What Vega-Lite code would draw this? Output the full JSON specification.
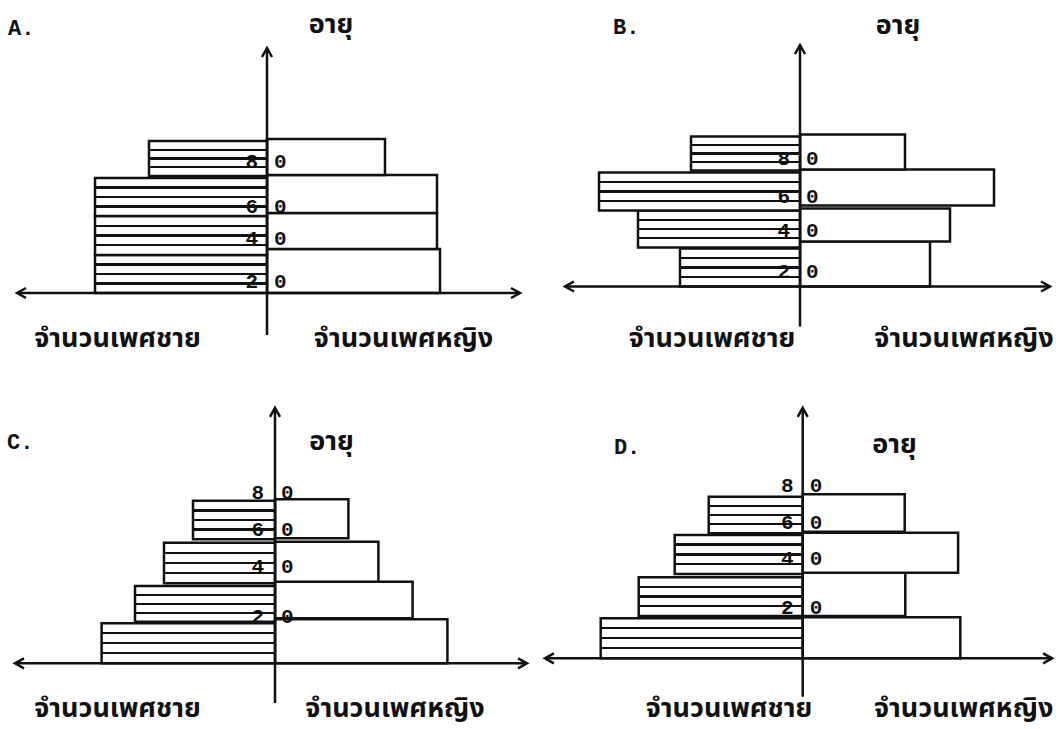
{
  "$schema": "https://vega.github.io/schema/vega-lite/v6.json",
  "padding": 0,
  "background": "white",
  "spacing": 0,
  "columns": 2,
  "config": {"view": {"stroke": null}, "axis": {"disable": true}, "concat": {"spacing": 0}},
  "datasets": {
    "bars": [
      {"panel": "A", "sex": "M", "group": 1, "value": -86, "lo": 0, "hi": 19},
      {"panel": "A", "sex": "M", "group": 2, "value": -86, "lo": 19, "hi": 38.5},
      {"panel": "A", "sex": "M", "group": 3, "value": -86, "lo": 38.5, "hi": 57.5},
      {"panel": "A", "sex": "M", "group": 4, "value": -59, "lo": 58.5, "hi": 76},
      {"panel": "A", "sex": "F", "group": 1, "value": 86.5, "lo": 0, "hi": 22},
      {"panel": "A", "sex": "F", "group": 2, "value": 85, "lo": 22, "hi": 40},
      {"panel": "A", "sex": "F", "group": 3, "value": 85, "lo": 40, "hi": 59},
      {"panel": "A", "sex": "F", "group": 4, "value": 59, "lo": 59, "hi": 77},
      {"panel": "B", "sex": "M", "group": 1, "value": -60, "lo": 0, "hi": 19},
      {"panel": "B", "sex": "M", "group": 2, "value": -81, "lo": 19.5, "hi": 38},
      {"panel": "B", "sex": "M", "group": 3, "value": -100.5, "lo": 38, "hi": 57},
      {"panel": "B", "sex": "M", "group": 4, "value": -54.5, "lo": 58, "hi": 75},
      {"panel": "B", "sex": "F", "group": 1, "value": 65, "lo": 0, "hi": 22.5},
      {"panel": "B", "sex": "F", "group": 2, "value": 75, "lo": 22.5, "hi": 39},
      {"panel": "B", "sex": "F", "group": 3, "value": 97, "lo": 40.5, "hi": 58.5},
      {"panel": "B", "sex": "F", "group": 4, "value": 52.5, "lo": 58.5, "hi": 76},
      {"panel": "C", "sex": "M", "group": 1, "value": -86.7, "lo": 0, "hi": 20},
      {"panel": "C", "sex": "M", "group": 2, "value": -70, "lo": 20.8, "hi": 38.6},
      {"panel": "C", "sex": "M", "group": 3, "value": -55.5, "lo": 40, "hi": 60.3},
      {"panel": "C", "sex": "M", "group": 4, "value": -41, "lo": 62, "hi": 81.3},
      {"panel": "C", "sex": "F", "group": 1, "value": 86.2, "lo": 0, "hi": 22},
      {"panel": "C", "sex": "F", "group": 2, "value": 68.8, "lo": 22.5, "hi": 40.8},
      {"panel": "C", "sex": "F", "group": 3, "value": 51.7, "lo": 40.8, "hi": 60.8},
      {"panel": "C", "sex": "F", "group": 4, "value": 36.7, "lo": 62.5, "hi": 82},
      {"panel": "D", "sex": "M", "group": 1, "value": -101, "lo": 0, "hi": 20},
      {"panel": "D", "sex": "M", "group": 2, "value": -82, "lo": 21.2, "hi": 40.5},
      {"panel": "D", "sex": "M", "group": 3, "value": -64, "lo": 42.2, "hi": 61.7},
      {"panel": "D", "sex": "M", "group": 4, "value": -47, "lo": 62.5, "hi": 80.8},
      {"panel": "D", "sex": "F", "group": 1, "value": 78.8, "lo": 0, "hi": 20.5},
      {"panel": "D", "sex": "F", "group": 2, "value": 51.3, "lo": 21.2, "hi": 42.8},
      {"panel": "D", "sex": "F", "group": 3, "value": 77.7, "lo": 42.8, "hi": 62.8},
      {"panel": "D", "sex": "F", "group": 4, "value": 51, "lo": 63.3, "hi": 82}
    ],
    "ticks": [
      {"panel": "A", "tens": "8", "ones": "0", "age": 65.6},
      {"panel": "A", "tens": "6", "ones": "0", "age": 43.2},
      {"panel": "A", "tens": "4", "ones": "0", "age": 27},
      {"panel": "A", "tens": "2", "ones": "0", "age": 5.7},
      {"panel": "B", "tens": "8", "ones": "0", "age": 63.6},
      {"panel": "B", "tens": "6", "ones": "0", "age": 44.9},
      {"panel": "B", "tens": "4", "ones": "0", "age": 27.9},
      {"panel": "B", "tens": "2", "ones": "0", "age": 7.4},
      {"panel": "C", "tens": "8", "ones": "0", "age": 85.3},
      {"panel": "C", "tens": "6", "ones": "0", "age": 66.7},
      {"panel": "C", "tens": "4", "ones": "0", "age": 48.3},
      {"panel": "C", "tens": "2", "ones": "0", "age": 23.3},
      {"panel": "D", "tens": "8", "ones": "0", "age": 86.2},
      {"panel": "D", "tens": "6", "ones": "0", "age": 67.5},
      {"panel": "D", "tens": "4", "ones": "0", "age": 49.5},
      {"panel": "D", "tens": "2", "ones": "0", "age": 25}
    ]
  },
  "concat": [
    {
      "width": 530, "height": 365,
      "layer": [
        {"data": {"name": "bars"}, "transform": [{"filter": "datum.panel == 'A' && datum.sex == 'F'"}],
         "mark": {"type": "rect", "fill": "white", "stroke": "#111", "strokeWidth": 2.5},
         "encoding": {
           "x": {"field": "value", "type": "quantitative", "scale": {"domain": [-133.5, 131.5], "nice": false, "zero": false}, "axis": null},
           "x2": {"datum": 0},
           "y": {"field": "lo", "type": "quantitative", "scale": {"domain": [-36, 146.5], "nice": false, "zero": false}, "axis": null},
           "y2": {"field": "hi"}}},
        {"data": {"name": "bars"}, "transform": [{"filter": "datum.panel == 'A' && datum.sex == 'M'"}],
         "mark": {"type": "rect", "stroke": "#111", "strokeWidth": 2.5,
           "fill": {"gradient": "linear", "x1": 0, "y1": 0, "x2": 0, "y2": 1, "stops": [
             {"offset": 0, "color": "white"}, {"offset": 0.22, "color": "white"}, {"offset": 0.22, "color": "#111"}, {"offset": 0.28, "color": "#111"}, {"offset": 0.28, "color": "white"},
             {"offset": 0.47, "color": "white"}, {"offset": 0.47, "color": "#111"}, {"offset": 0.53, "color": "#111"}, {"offset": 0.53, "color": "white"},
             {"offset": 0.72, "color": "white"}, {"offset": 0.72, "color": "#111"}, {"offset": 0.78, "color": "#111"}, {"offset": 0.78, "color": "white"}, {"offset": 1, "color": "white"}]}},
         "encoding": {
           "x": {"field": "value", "type": "quantitative", "scale": {"domain": [-133.5, 131.5], "nice": false, "zero": false}, "axis": null},
           "x2": {"datum": 0},
           "y": {"field": "lo", "type": "quantitative", "scale": {"domain": [-36, 146.5], "nice": false, "zero": false}, "axis": null},
           "y2": {"field": "hi"}}},
        {"data": {"values": [{}]}, "mark": {"type": "rule", "stroke": "#111", "strokeWidth": 2.5},
         "encoding": {"x": {"datum": 0}, "y": {"datum": -21}, "y2": {"datum": 122.5}}},
        {"data": {"values": [{}]}, "mark": {"type": "rule", "stroke": "#111", "strokeWidth": 2.5},
         "encoding": {"y": {"datum": 0}, "x": {"datum": -125}, "x2": {"datum": 126.5}}},
        {"data": {"values": [{}]}, "mark": {"type": "point", "shape": "M-1,1.8L0,0L1,1.8", "size": 100, "filled": false, "stroke": "#111", "strokeWidth": 2.5, "opacity": 1},
         "encoding": {"x": {"datum": 0}, "y": {"datum": 122.5}}},
        {"data": {"values": [{}]}, "mark": {"type": "point", "shape": "M1.8,-1L0,0L1.8,1", "size": 100, "filled": false, "stroke": "#111", "strokeWidth": 2.5, "opacity": 1},
         "encoding": {"x": {"datum": -125}, "y": {"datum": 0}}},
        {"data": {"values": [{}]}, "mark": {"type": "point", "shape": "M-1.8,-1L0,0L-1.8,1", "size": 100, "filled": false, "stroke": "#111", "strokeWidth": 2.5, "opacity": 1},
         "encoding": {"x": {"datum": 126.5}, "y": {"datum": 0}}},
        {"data": {"name": "ticks"}, "transform": [{"filter": "datum.panel == 'A'"}],
         "mark": {"type": "text", "font": "Liberation Mono", "fontSize": 21, "fontWeight": "bold", "align": "right", "baseline": "middle", "color": "#111"},
         "encoding": {"x": {"datum": -4.5}, "y": {"field": "age", "type": "quantitative"}, "text": {"field": "tens"}}},
        {"data": {"name": "ticks"}, "transform": [{"filter": "datum.panel == 'A'"}],
         "mark": {"type": "text", "font": "Liberation Mono", "fontSize": 21, "fontWeight": "bold", "align": "left", "baseline": "middle", "color": "#111"},
         "encoding": {"x": {"datum": 3.5}, "y": {"field": "age", "type": "quantitative"}, "text": {"field": "ones"}}},
        {"data": {"values": [{}]}, "mark": {"type": "text", "text": "A.", "font": "Liberation Mono", "fontSize": 22, "fontWeight": "bold", "align": "left", "baseline": "middle", "color": "#111"},
         "encoding": {"x": {"datum": -129.5}, "y": {"datum": 132.75}}},
        {"data": {"values": [{}]}, "mark": {"type": "text", "text": "อายุ", "font": "TlwgTypewriter, 'Tlwg Typo', 'Noto Sans Thai', Loma, Garuda, Waree, 'DejaVu Sans', sans-serif", "fontSize": 27, "fontWeight": "bold", "align": "center", "baseline": "alphabetic", "color": "#111"},
         "encoding": {"x": {"datum": 32}, "y": {"datum": 130}}},
        {"data": {"values": [{}]}, "mark": {"type": "text", "text": "จำนวนเพศชาย", "font": "TlwgTypewriter, 'Tlwg Typo', 'Noto Sans Thai', Loma, Garuda, Waree, 'DejaVu Sans', sans-serif", "fontSize": 27, "fontWeight": "bold", "align": "center", "baseline": "alphabetic", "color": "#111"},
         "encoding": {"x": {"datum": -74.75}, "y": {"datum": -27}}},
        {"data": {"values": [{}]}, "mark": {"type": "text", "text": "จำนวนเพศหญิง", "font": "TlwgTypewriter, 'Tlwg Typo', 'Noto Sans Thai', Loma, Garuda, Waree, 'DejaVu Sans', sans-serif", "fontSize": 27, "fontWeight": "bold", "align": "center", "baseline": "alphabetic", "color": "#111"},
         "encoding": {"x": {"datum": 68.25}, "y": {"datum": -27}}}
      ]
    },
    {
      "width": 530, "height": 365,
      "layer": [
        {"data": {"name": "bars"}, "transform": [{"filter": "datum.panel == 'B' && datum.sex == 'F'"}],
         "mark": {"type": "rect", "fill": "white", "stroke": "#111", "strokeWidth": 2.5},
         "encoding": {
           "x": {"field": "value", "type": "quantitative", "scale": {"domain": [-134, 131], "nice": false, "zero": false}, "axis": null},
           "x2": {"datum": 0},
           "y": {"field": "lo", "type": "quantitative", "scale": {"domain": [-39.25, 143.25], "nice": false, "zero": false}, "axis": null},
           "y2": {"field": "hi"}}},
        {"data": {"name": "bars"}, "transform": [{"filter": "datum.panel == 'B' && datum.sex == 'M'"}],
         "mark": {"type": "rect", "stroke": "#111", "strokeWidth": 2.5,
           "fill": {"gradient": "linear", "x1": 0, "y1": 0, "x2": 0, "y2": 1, "stops": [
             {"offset": 0, "color": "white"}, {"offset": 0.22, "color": "white"}, {"offset": 0.22, "color": "#111"}, {"offset": 0.28, "color": "#111"}, {"offset": 0.28, "color": "white"},
             {"offset": 0.47, "color": "white"}, {"offset": 0.47, "color": "#111"}, {"offset": 0.53, "color": "#111"}, {"offset": 0.53, "color": "white"},
             {"offset": 0.72, "color": "white"}, {"offset": 0.72, "color": "#111"}, {"offset": 0.78, "color": "#111"}, {"offset": 0.78, "color": "white"}, {"offset": 1, "color": "white"}]}},
         "encoding": {
           "x": {"field": "value", "type": "quantitative", "scale": {"domain": [-134, 131], "nice": false, "zero": false}, "axis": null},
           "x2": {"datum": 0},
           "y": {"field": "lo", "type": "quantitative", "scale": {"domain": [-39.25, 143.25], "nice": false, "zero": false}, "axis": null},
           "y2": {"field": "hi"}}},
        {"data": {"values": [{}]}, "mark": {"type": "rule", "stroke": "#111", "strokeWidth": 2.5},
         "encoding": {"x": {"datum": 0}, "y": {"datum": -20}, "y2": {"datum": 120.75}}},
        {"data": {"values": [{}]}, "mark": {"type": "rule", "stroke": "#111", "strokeWidth": 2.5},
         "encoding": {"y": {"datum": 0}, "x": {"datum": -117.5}, "x2": {"datum": 125}}},
        {"data": {"values": [{}]}, "mark": {"type": "point", "shape": "M-1,1.8L0,0L1,1.8", "size": 100, "filled": false, "stroke": "#111", "strokeWidth": 2.5, "opacity": 1},
         "encoding": {"x": {"datum": 0}, "y": {"datum": 120.75}}},
        {"data": {"values": [{}]}, "mark": {"type": "point", "shape": "M1.8,-1L0,0L1.8,1", "size": 100, "filled": false, "stroke": "#111", "strokeWidth": 2.5, "opacity": 1},
         "encoding": {"x": {"datum": -117.5}, "y": {"datum": 0}}},
        {"data": {"values": [{}]}, "mark": {"type": "point", "shape": "M-1.8,-1L0,0L-1.8,1", "size": 100, "filled": false, "stroke": "#111", "strokeWidth": 2.5, "opacity": 1},
         "encoding": {"x": {"datum": 125}, "y": {"datum": 0}}},
        {"data": {"name": "ticks"}, "transform": [{"filter": "datum.panel == 'B'"}],
         "mark": {"type": "text", "font": "Liberation Mono", "fontSize": 21, "fontWeight": "bold", "align": "right", "baseline": "middle", "color": "#111"},
         "encoding": {"x": {"datum": -5}, "y": {"field": "age", "type": "quantitative"}, "text": {"field": "tens"}}},
        {"data": {"name": "ticks"}, "transform": [{"filter": "datum.panel == 'B'"}],
         "mark": {"type": "text", "font": "Liberation Mono", "fontSize": 21, "fontWeight": "bold", "align": "left", "baseline": "middle", "color": "#111"},
         "encoding": {"x": {"datum": 3}, "y": {"field": "age", "type": "quantitative"}, "text": {"field": "ones"}}},
        {"data": {"values": [{}]}, "mark": {"type": "text", "text": "B.", "font": "Liberation Mono", "fontSize": 22, "fontWeight": "bold", "align": "left", "baseline": "middle", "color": "#111"},
         "encoding": {"x": {"datum": -93.5}, "y": {"datum": 129.75}}},
        {"data": {"values": [{}]}, "mark": {"type": "text", "text": "อายุ", "font": "TlwgTypewriter, 'Tlwg Typo', 'Noto Sans Thai', Loma, Garuda, Waree, 'DejaVu Sans', sans-serif", "fontSize": 27, "fontWeight": "bold", "align": "center", "baseline": "alphabetic", "color": "#111"},
         "encoding": {"x": {"datum": 49}, "y": {"datum": 126.4}}},
        {"data": {"values": [{}]}, "mark": {"type": "text", "text": "จำนวนเพศชาย", "font": "TlwgTypewriter, 'Tlwg Typo', 'Noto Sans Thai', Loma, Garuda, Waree, 'DejaVu Sans', sans-serif", "fontSize": 27, "fontWeight": "bold", "align": "center", "baseline": "alphabetic", "color": "#111"},
         "encoding": {"x": {"datum": -44}, "y": {"datum": -30.25}}},
        {"data": {"values": [{}]}, "mark": {"type": "text", "text": "จำนวนเพศหญิง", "font": "TlwgTypewriter, 'Tlwg Typo', 'Noto Sans Thai', Loma, Garuda, Waree, 'DejaVu Sans', sans-serif", "fontSize": 27, "fontWeight": "bold", "align": "center", "baseline": "alphabetic", "color": "#111"},
         "encoding": {"x": {"datum": 82}, "y": {"datum": -30.25}}}
      ]
    },
    {
      "width": 530, "height": 364,
      "layer": [
        {"data": {"name": "bars"}, "transform": [{"filter": "datum.panel == 'C' && datum.sex == 'F'"}],
         "mark": {"type": "rect", "fill": "white", "stroke": "#111", "strokeWidth": 2.5},
         "encoding": {
           "x": {"field": "value", "type": "quantitative", "scale": {"domain": [-137.5, 127.5], "nice": false, "zero": false}, "axis": null},
           "x2": {"datum": 0},
           "y": {"field": "lo", "type": "quantitative", "scale": {"domain": [-32.85, 149.15], "nice": false, "zero": false}, "axis": null},
           "y2": {"field": "hi"}}},
        {"data": {"name": "bars"}, "transform": [{"filter": "datum.panel == 'C' && datum.sex == 'M'"}],
         "mark": {"type": "rect", "stroke": "#111", "strokeWidth": 2.5,
           "fill": {"gradient": "linear", "x1": 0, "y1": 0, "x2": 0, "y2": 1, "stops": [
             {"offset": 0, "color": "white"}, {"offset": 0.22, "color": "white"}, {"offset": 0.22, "color": "#111"}, {"offset": 0.28, "color": "#111"}, {"offset": 0.28, "color": "white"},
             {"offset": 0.47, "color": "white"}, {"offset": 0.47, "color": "#111"}, {"offset": 0.53, "color": "#111"}, {"offset": 0.53, "color": "white"},
             {"offset": 0.72, "color": "white"}, {"offset": 0.72, "color": "#111"}, {"offset": 0.78, "color": "#111"}, {"offset": 0.78, "color": "white"}, {"offset": 1, "color": "white"}]}},
         "encoding": {
           "x": {"field": "value", "type": "quantitative", "scale": {"domain": [-137.5, 127.5], "nice": false, "zero": false}, "axis": null},
           "x2": {"datum": 0},
           "y": {"field": "lo", "type": "quantitative", "scale": {"domain": [-32.85, 149.15], "nice": false, "zero": false}, "axis": null},
           "y2": {"field": "hi"}}},
        {"data": {"values": [{}]}, "mark": {"type": "rule", "stroke": "#111", "strokeWidth": 2.5},
         "encoding": {"x": {"datum": 0}, "y": {"datum": -19.9}, "y2": {"datum": 127.7}}},
        {"data": {"values": [{}]}, "mark": {"type": "rule", "stroke": "#111", "strokeWidth": 2.5},
         "encoding": {"y": {"datum": 0}, "x": {"datum": -130}, "x2": {"datum": 126}}},
        {"data": {"values": [{}]}, "mark": {"type": "point", "shape": "M-1,1.8L0,0L1,1.8", "size": 100, "filled": false, "stroke": "#111", "strokeWidth": 2.5, "opacity": 1},
         "encoding": {"x": {"datum": 0}, "y": {"datum": 127.7}}},
        {"data": {"values": [{}]}, "mark": {"type": "point", "shape": "M1.8,-1L0,0L1.8,1", "size": 100, "filled": false, "stroke": "#111", "strokeWidth": 2.5, "opacity": 1},
         "encoding": {"x": {"datum": -130}, "y": {"datum": 0}}},
        {"data": {"values": [{}]}, "mark": {"type": "point", "shape": "M-1.8,-1L0,0L-1.8,1", "size": 100, "filled": false, "stroke": "#111", "strokeWidth": 2.5, "opacity": 1},
         "encoding": {"x": {"datum": 126}, "y": {"datum": 0}}},
        {"data": {"name": "ticks"}, "transform": [{"filter": "datum.panel == 'C'"}],
         "mark": {"type": "text", "font": "Liberation Mono", "fontSize": 21, "fontWeight": "bold", "align": "right", "baseline": "middle", "color": "#111"},
         "encoding": {"x": {"datum": -5.5}, "y": {"field": "age", "type": "quantitative"}, "text": {"field": "tens"}}},
        {"data": {"name": "ticks"}, "transform": [{"filter": "datum.panel == 'C'"}],
         "mark": {"type": "text", "font": "Liberation Mono", "fontSize": 21, "fontWeight": "bold", "align": "left", "baseline": "middle", "color": "#111"},
         "encoding": {"x": {"datum": 3}, "y": {"field": "age", "type": "quantitative"}, "text": {"field": "ones"}}},
        {"data": {"values": [{}]}, "mark": {"type": "text", "text": "C.", "font": "Liberation Mono", "fontSize": 22, "fontWeight": "bold", "align": "left", "baseline": "middle", "color": "#111"},
         "encoding": {"x": {"datum": -134}, "y": {"datum": 110.7}}},
        {"data": {"values": [{}]}, "mark": {"type": "text", "text": "อายุ", "font": "TlwgTypewriter, 'Tlwg Typo', 'Noto Sans Thai', Loma, Garuda, Waree, 'DejaVu Sans', sans-serif", "fontSize": 27, "fontWeight": "bold", "align": "center", "baseline": "alphabetic", "color": "#111"},
         "encoding": {"x": {"datum": 28.25}, "y": {"datum": 106.6}}},
        {"data": {"values": [{}]}, "mark": {"type": "text", "text": "จำนวนเพศชาย", "font": "TlwgTypewriter, 'Tlwg Typo', 'Noto Sans Thai', Loma, Garuda, Waree, 'DejaVu Sans', sans-serif", "fontSize": 27, "fontWeight": "bold", "align": "center", "baseline": "alphabetic", "color": "#111"},
         "encoding": {"x": {"datum": -78.75}, "y": {"datum": -26.85}}},
        {"data": {"values": [{}]}, "mark": {"type": "text", "text": "จำนวนเพศหญิง", "font": "TlwgTypewriter, 'Tlwg Typo', 'Noto Sans Thai', Loma, Garuda, Waree, 'DejaVu Sans', sans-serif", "fontSize": 27, "fontWeight": "bold", "align": "center", "baseline": "alphabetic", "color": "#111"},
         "encoding": {"x": {"datum": 60}, "y": {"datum": -26.85}}}
      ]
    },
    {
      "width": 530, "height": 364,
      "layer": [
        {"data": {"name": "bars"}, "transform": [{"filter": "datum.panel == 'D' && datum.sex == 'F'"}],
         "mark": {"type": "rect", "fill": "white", "stroke": "#111", "strokeWidth": 2.5},
         "encoding": {
           "x": {"field": "value", "type": "quantitative", "scale": {"domain": [-135.35, 129.65], "nice": false, "zero": false}, "axis": null},
           "x2": {"datum": 0},
           "y": {"field": "lo", "type": "quantitative", "scale": {"domain": [-35.35, 146.65], "nice": false, "zero": false}, "axis": null},
           "y2": {"field": "hi"}}},
        {"data": {"name": "bars"}, "transform": [{"filter": "datum.panel == 'D' && datum.sex == 'M'"}],
         "mark": {"type": "rect", "stroke": "#111", "strokeWidth": 2.5,
           "fill": {"gradient": "linear", "x1": 0, "y1": 0, "x2": 0, "y2": 1, "stops": [
             {"offset": 0, "color": "white"}, {"offset": 0.22, "color": "white"}, {"offset": 0.22, "color": "#111"}, {"offset": 0.28, "color": "#111"}, {"offset": 0.28, "color": "white"},
             {"offset": 0.47, "color": "white"}, {"offset": 0.47, "color": "#111"}, {"offset": 0.53, "color": "#111"}, {"offset": 0.53, "color": "white"},
             {"offset": 0.72, "color": "white"}, {"offset": 0.72, "color": "#111"}, {"offset": 0.78, "color": "#111"}, {"offset": 0.78, "color": "white"}, {"offset": 1, "color": "white"}]}},
         "encoding": {
           "x": {"field": "value", "type": "quantitative", "scale": {"domain": [-135.35, 129.65], "nice": false, "zero": false}, "axis": null},
           "x2": {"datum": 0},
           "y": {"field": "lo", "type": "quantitative", "scale": {"domain": [-35.35, 146.65], "nice": false, "zero": false}, "axis": null},
           "y2": {"field": "hi"}}},
        {"data": {"values": [{}]}, "mark": {"type": "rule", "stroke": "#111", "strokeWidth": 2.5},
         "encoding": {"x": {"datum": 0}, "y": {"datum": -19.2}, "y2": {"datum": 125.2}}},
        {"data": {"values": [{}]}, "mark": {"type": "rule", "stroke": "#111", "strokeWidth": 2.5},
         "encoding": {"y": {"datum": 0}, "x": {"datum": -128.9}, "x2": {"datum": 124.7}}},
        {"data": {"values": [{}]}, "mark": {"type": "point", "shape": "M-1,1.8L0,0L1,1.8", "size": 100, "filled": false, "stroke": "#111", "strokeWidth": 2.5, "opacity": 1},
         "encoding": {"x": {"datum": 0}, "y": {"datum": 125.2}}},
        {"data": {"values": [{}]}, "mark": {"type": "point", "shape": "M1.8,-1L0,0L1.8,1", "size": 100, "filled": false, "stroke": "#111", "strokeWidth": 2.5, "opacity": 1},
         "encoding": {"x": {"datum": -128.9}, "y": {"datum": 0}}},
        {"data": {"values": [{}]}, "mark": {"type": "point", "shape": "M-1.8,-1L0,0L-1.8,1", "size": 100, "filled": false, "stroke": "#111", "strokeWidth": 2.5, "opacity": 1},
         "encoding": {"x": {"datum": 124.7}, "y": {"datum": 0}}},
        {"data": {"name": "ticks"}, "transform": [{"filter": "datum.panel == 'D'"}],
         "mark": {"type": "text", "font": "Liberation Mono", "fontSize": 21, "fontWeight": "bold", "align": "right", "baseline": "middle", "color": "#111"},
         "encoding": {"x": {"datum": -4.5}, "y": {"field": "age", "type": "quantitative"}, "text": {"field": "tens"}}},
        {"data": {"name": "ticks"}, "transform": [{"filter": "datum.panel == 'D'"}],
         "mark": {"type": "text", "font": "Liberation Mono", "fontSize": 21, "fontWeight": "bold", "align": "left", "baseline": "middle", "color": "#111"},
         "encoding": {"x": {"datum": 3.5}, "y": {"field": "age", "type": "quantitative"}, "text": {"field": "ones"}}},
        {"data": {"values": [{}]}, "mark": {"type": "text", "text": "D.", "font": "Liberation Mono", "fontSize": 22, "fontWeight": "bold", "align": "left", "baseline": "middle", "color": "#111"},
         "encoding": {"x": {"datum": -94.4}, "y": {"datum": 105.8}}},
        {"data": {"values": [{}]}, "mark": {"type": "text", "text": "อายุ", "font": "TlwgTypewriter, 'Tlwg Typo', 'Noto Sans Thai', Loma, Garuda, Waree, 'DejaVu Sans', sans-serif", "fontSize": 27, "fontWeight": "bold", "align": "center", "baseline": "alphabetic", "color": "#111"},
         "encoding": {"x": {"datum": 45.9}, "y": {"datum": 102.6}}},
        {"data": {"values": [{}]}, "mark": {"type": "text", "text": "จำนวนเพศชาย", "font": "TlwgTypewriter, 'Tlwg Typo', 'Noto Sans Thai', Loma, Garuda, Waree, 'DejaVu Sans', sans-serif", "fontSize": 27, "fontWeight": "bold", "align": "center", "baseline": "alphabetic", "color": "#111"},
         "encoding": {"x": {"datum": -36.85}, "y": {"datum": -29.35}}},
        {"data": {"values": [{}]}, "mark": {"type": "text", "text": "จำนวนเพศหญิง", "font": "TlwgTypewriter, 'Tlwg Typo', 'Noto Sans Thai', Loma, Garuda, Waree, 'DejaVu Sans', sans-serif", "fontSize": 27, "fontWeight": "bold", "align": "center", "baseline": "alphabetic", "color": "#111"},
         "encoding": {"x": {"datum": 80.5}, "y": {"datum": -29.35}}}
      ]
    }
  ]
}
